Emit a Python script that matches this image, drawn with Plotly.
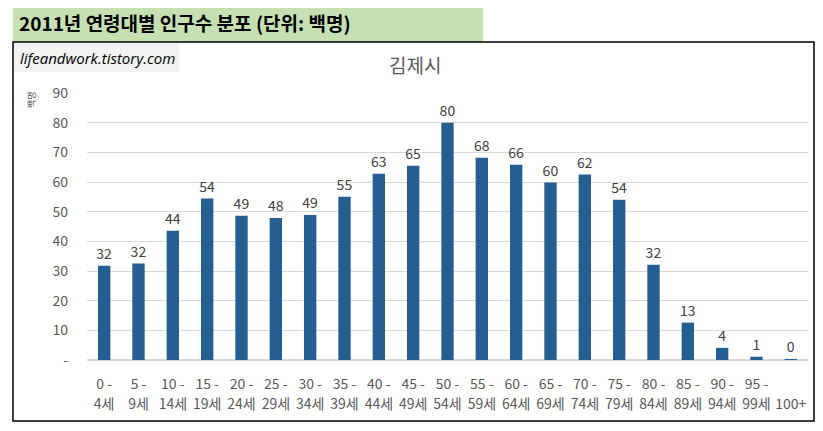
import plotly.graph_objects as go

# 2011 Gimje population by age band (unit: hundreds)
age_groups = ["0-4", "5-9", "10-14", "15-19", "20-24", "25-29", "30-34", "35-39",
              "40-44", "45-49", "50-54", "55-59", "60-64", "65-69", "70-74", "75-79",
              "80-84", "85-89", "90-94", "95-99", "100+"]
population = [31.8, 32.5, 43.6, 54.4, 48.6, 47.9, 48.9, 55.0, 62.8, 65.5, 80.0,
              68.2, 65.8, 59.8, 62.5, 54.0, 32.1, 12.6, 4.1, 1.1, 0.3]
labels = ["32", "32", "44", "54", "49", "48", "49", "55", "63", "65", "80",
          "68", "66", "60", "62", "54", "32", "13", "4", "1", "0"]
tick_line1 = ["0 -", "5 -", "10 -", "15 -", "20 -", "25 -", "30 -", "35 -", "40 -", "45 -",
              "50 -", "55 -", "60 -", "65 -", "70 -", "75 -", "80 -", "85 -", "90 -", "95 -", " "]
tick_line2 = ["4세", "9세", "14세", "19세", "24세", "29세", "34세", "39세", "44세", "49세",
              "54세", "59세", "64세", "69세", "74세", "79세", "84세", "89세", "94세", "99세", "100+"]
y_ticks = [0, 10, 20, 30, 40, 50, 60, 70, 80, 90]
y_ticktext = ["-", "10", "20", "30", "40", "50", "60", "70", "80", "90"]

# page has an 8px body margin, so work in page pixels and shift by OFF
OFF = 8
W, H = 823 - 2 * OFF, 431 - 2 * OFF
L, R, T, B = 87 - OFF, 808 - OFF, 93 - OFF, 360 - OFF
FONT = "Noto Sans CJK KR"


def px(x):
    return (x - OFF - L) / (R - L)


def py(y):
    return (B - (y - OFF)) / (B - T)


fig = go.Figure()
fig.add_trace(go.Bar(
    x=age_groups, y=population, text=labels, textposition="outside",
    textfont=dict(size=14, color="#404040", family=FONT),
    marker=dict(color="#255e91", line=dict(width=0)),
    cliponaxis=False, constraintext="none", hoverinfo="skip",
))
# invisible copy on a second x axis, only to carry the second row of tick labels
fig.add_trace(go.Bar(
    x=age_groups, y=population, xaxis="x2", opacity=0,
    marker=dict(color="rgba(0,0,0,0)"), hoverinfo="skip", showlegend=False,
))

axis_font = dict(size=14, color="#595959", family=FONT)
fig.update_layout(
    width=W, height=H,
    margin=dict(l=L, r=W - R, t=T, b=H - B, autoexpand=False),
    paper_bgcolor="white", plot_bgcolor="white",
    showlegend=False, bargap=0.64,
    font=dict(family=FONT),
    xaxis=dict(
        type="category", tickvals=age_groups, ticktext=tick_line1,
        tickfont=axis_font, showgrid=False, ticks="",
        showline=True, linecolor="#d9d9d9", linewidth=1,
        ticklabelstandoff=11, automargin=False,
    ),
    xaxis2=dict(
        type="category", overlaying="x", matches="x", side="bottom",
        tickvals=age_groups, ticktext=tick_line2, tickfont=axis_font,
        showgrid=False, ticks="", showline=False, ticklabelstandoff=34,
        automargin=False,
    ),
    yaxis=dict(
        range=[0, 90], tickvals=y_ticks, ticktext=y_ticktext,
        tickfont=axis_font, showgrid=True, gridcolor="#d9d9d9",
        zeroline=True, zerolinecolor="#d9d9d9", ticks="",
        ticklabelstandoff=18, automargin=False,
    ),
)

shapes = [
    # green title band
    dict(type="rect", xref="paper", yref="paper", x0=px(13), x1=px(483), y0=py(42), y1=py(5),
         fillcolor="#c6e0b4", line=dict(width=0), layer="below"),
    # watermark box
    dict(type="rect", xref="paper", yref="paper", x0=px(14), x1=px(179), y0=py(72), y1=py(43),
         fillcolor="#f2f2f2", line=dict(width=0), layer="below"),
    # chart frame
    dict(type="rect", xref="paper", yref="paper", x0=px(13), x1=px(814), y0=py(421), y1=py(42),
         fillcolor="rgba(0,0,0,0)", line=dict(color="black", width=1.5)),
]
fig.update_layout(shapes=shapes)

fig.add_annotation(text="<b>2011년 연령대별 인구수 분포 (단위: 백명)</b>", xref="paper", yref="paper",
                   x=px(17), y=py(22), xanchor="left", yanchor="middle", showarrow=False,
                   font=dict(size=19, color="black", family=FONT))
fig.add_annotation(text="<i>lifeandwork.tistory.com</i>", xref="paper", yref="paper",
                   x=px(18), y=py(58), xanchor="left", yanchor="middle", showarrow=False,
                   font=dict(size=15, color="black", family="Open Sans"))
fig.add_annotation(text="김제시", xref="paper", yref="paper",
                   x=px(415), y=py(65), xanchor="center", yanchor="middle", showarrow=False,
                   font=dict(size=19, color="#595959", family=FONT))
fig.add_annotation(text="백명", xref="paper", yref="paper", textangle=-90,
                   x=px(32), y=py(100), xanchor="center", yanchor="middle", showarrow=False,
                   font=dict(size=9, color="#595959", family=FONT))

fig.write_html("out.html")
